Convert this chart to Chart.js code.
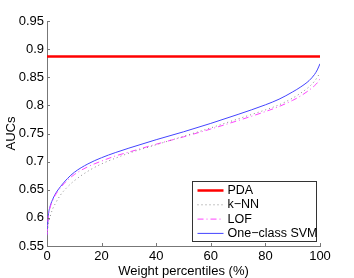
<!DOCTYPE html>
<html>
<head>
<meta charset="utf-8">
<script src="https://cdn.jsdelivr.net/npm/chart.js@4/dist/chart.umd.min.js"></script>
<style>
  html, body { margin: 0; padding: 0; background: #fff; }
  #wrap { width: 354px; height: 278px; }
</style>
</head>
<body>
<div id="wrap"><canvas id="chart"></canvas></div>
<script>
// weight percentiles (%)
const percentiles = [0, 0.5, 1, 2, 3, 5, 7.5, 10, 15, 20, 25, 30, 40, 50, 60, 70, 80, 85, 90, 93, 96, 98, 99, 100];
const pdaAuc = 0.887;
const knnAuc = [0.568, 0.590, 0.600, 0.615, 0.625, 0.641, 0.655, 0.666, 0.683, 0.696, 0.706, 0.715, 0.730, 0.745, 0.760, 0.776, 0.792, 0.801, 0.813, 0.822, 0.833, 0.843, 0.850, 0.858];
const lofAuc = [0.570, 0.603, 0.616, 0.630, 0.640, 0.654, 0.667, 0.677, 0.691, 0.701, 0.710, 0.717, 0.731, 0.744, 0.758, 0.773, 0.789, 0.798, 0.809, 0.817, 0.827, 0.835, 0.840, 0.847];
const svmAuc = [0.570, 0.605, 0.618, 0.632, 0.642, 0.656, 0.670, 0.681, 0.696, 0.707, 0.716, 0.724, 0.739, 0.753, 0.768, 0.784, 0.801, 0.811, 0.824, 0.833, 0.844, 0.855, 0.863, 0.874];
const seriesNames = ["PDA", "k\u2212NN", "LOF", "One\u2212class SVM"];

function toPoints(ys) {
  return percentiles.map((p, i) => ({ x: p, y: ys[i] }));
}

const FONT = "'Liberation Sans', Arial, sans-serif";
const AXIS_COLOR = "#777";

// MATLAB style inward ticks + legend box inside the axes
const matlabBits = {
  id: "matlabBits",
  afterDraw(chart) {
    const ctx = chart.ctx;
    const xs = chart.scales.x, ys = chart.scales.y;
    const area = chart.chartArea;
    ctx.save();
    ctx.strokeStyle = AXIS_COLOR;
    ctx.lineWidth = 1;
    ctx.beginPath();
    xs.ticks.forEach(t => {
      const px = Math.round(xs.getPixelForValue(t.value)) + 0.5;
      ctx.moveTo(px, area.bottom);
      ctx.lineTo(px, area.bottom - 3);
    });
    ys.ticks.forEach(t => {
      const py = Math.round(ys.getPixelForValue(t.value)) + 0.5;
      ctx.moveTo(area.left, py);
      ctx.lineTo(area.left + 3, py);
    });
    ctx.stroke();

    // legend
    const lx = 192.5, ly = 181.5, lw = 124, lh = 60;
    ctx.fillStyle = "#fff";
    ctx.fillRect(lx, ly, lw, lh);
    ctx.strokeStyle = "#333";
    ctx.strokeRect(lx, ly, lw, lh);
    ctx.font = "12.5px " + FONT;
    ctx.textBaseline = "middle";
    chart.data.datasets.forEach((ds, i) => {
      const yy = ly + 9 + i * 14.3;
      ctx.strokeStyle = ds.borderColor;
      ctx.lineWidth = ds.borderWidth;
      ctx.setLineDash(ds.borderDash || []);
      ctx.beginPath();
      ctx.moveTo(lx + 5, yy);
      ctx.lineTo(lx + 31, yy);
      ctx.stroke();
      ctx.setLineDash([]);
      ctx.fillStyle = "#000";
      ctx.fillText(ds.label, lx + 35, yy);
    });
    ctx.restore();
  }
};

new Chart(document.getElementById("chart"), {
  type: "line",
  data: {
    datasets: [
      {
        label: seriesNames[0],
        data: [{ x: 0, y: pdaAuc }, { x: 100, y: pdaAuc }],
        borderColor: "#ff0000",
        borderWidth: 2.5
      },
      {
        label: seriesNames[1],
        data: toPoints(knnAuc),
        borderColor: "#8a8a8a",
        borderWidth: 1,
        borderDash: [1, 3]
      },
      {
        label: seriesNames[2],
        data: toPoints(lofAuc),
        borderColor: "#ff44ff",
        borderWidth: 1,
        borderDash: [6, 3, 1, 3]
      },
      {
        label: seriesNames[3],
        data: toPoints(svmAuc),
        borderColor: "#4444ff",
        borderWidth: 1
      }
    ]
  },
  options: {
    responsive: true,
    maintainAspectRatio: false,
    animation: false,
    elements: { point: { radius: 0 }, line: { cubicInterpolationMode: "monotone" } },
    layout: { padding: { top: 21, right: 34, left: 0, bottom: 0 } },
    plugins: { legend: { display: false }, tooltip: { enabled: false } },
    scales: {
      x: {
        type: "linear",
        min: 0,
        max: 100,
        ticks: { stepSize: 20, padding: 3, color: "#000", font: { family: FONT, size: 13 } },
        grid: { display: true, drawOnChartArea: false, drawTicks: false, tickLength: 0 },
        border: { display: true, color: AXIS_COLOR },
        title: { display: true, text: "Weight percentiles (%)", color: "#000", font: { family: FONT, size: 13 }, padding: { top: 0, bottom: -1.5 } },
        afterFit(scale) { scale.height = 32; }
      },
      y: {
        min: 0.55,
        max: 0.95,
        ticks: {
          stepSize: 0.05,
          padding: 3,
          color: "#000",
          font: { family: FONT, size: 13 },
          callback: v => String(parseFloat(v.toFixed(2)))
        },
        grid: { display: true, drawOnChartArea: false, drawTicks: false, tickLength: 0 },
        border: { display: true, color: AXIS_COLOR },
        title: { display: true, text: "AUCs", color: "#000", font: { family: FONT, size: 13 }, padding: { top: 4, bottom: 0 } },
        afterFit(scale) { scale.width = 47; }
      }
    }
  },
  plugins: [matlabBits]
});
</script>
</body>
</html>
